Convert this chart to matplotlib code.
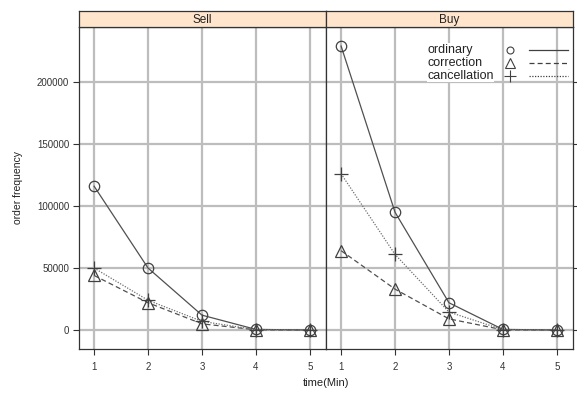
import matplotlib
matplotlib.use("Agg")
import matplotlib.pyplot as plt
from matplotlib.lines import Line2D

plt.rcParams['font.family'] = ['Liberation Sans', 'DejaVu Sans']

minutes = [1, 2, 3, 4, 5]
panels = ['Sell', 'Buy']
series_names = ['ordinary', 'correction', 'cancellation']

sell_ordinary = [116000, 50000, 12000, 500, 0]
sell_correction = [44000, 22000, 5000, 200, 0]
sell_cancellation = [50000, 24000, 7000, 300, 0]

buy_ordinary = [229000, 95000, 22000, 500, 0]
buy_correction = [64000, 33000, 9000, 200, 0]
buy_cancellation = [126000, 61000, 14500, 300, 0]

y_ticks = [0, 50000, 100000, 150000, 200000]

data = {
    'Sell': [sell_ordinary, sell_correction, sell_cancellation],
    'Buy': [buy_ordinary, buy_correction, buy_cancellation],
}
markers = ['o', '^', '+']
msizes = [7.5, 9, 10]
styles = ['-', (0, (4, 2.5)), (0, (1, 1.2))]
colors = ['#505050', '#505050', '#707070']

fig = plt.figure(figsize=(5.77, 3.94), dpi=100)
W, H = 577, 394
left, right, top, bottom = 79, 573, 27, 349
strip_h = 16
pw = (right - left) / 2

axes = []
for i, name in enumerate(panels):
    x0 = left + i * pw
    ax = fig.add_axes([x0 / W, 1 - bottom / H, pw / W, (bottom - top) / H])
    sax = fig.add_axes([x0 / W, 1 - top / H, pw / W, strip_h / H])
    sax.set_facecolor('#FFE5CC')
    sax.set_xticks([])
    sax.set_yticks([])
    sax.text(0.5, 0.42, name, ha='center', va='center', fontsize=8.5, color='#222222')
    for s in sax.spines.values():
        s.set_color('#333333')
        s.set_linewidth(0.9)

    for k, vals in enumerate(data[name]):
        ax.plot(minutes, vals, linestyle=styles[k], color=colors[k], lw=0.9,
                marker=markers[k], markersize=msizes[k], markerfacecolor='none',
                markeredgecolor='#404040', markeredgewidth=0.9, zorder=3)

    ax.set_xlim(0.72, 5.3)
    ax.set_ylim(-15300, 244400)
    ax.set_xticks(minutes)
    ax.set_yticks(y_ticks)
    ax.grid(True, color='#bdbdbd', lw=1.6, zorder=0)
    ax.set_axisbelow(True)
    ax.tick_params(labelsize=7, length=4, width=0.8, colors='#333333', pad=5)
    if i == 0:
        ax.set_yticklabels([str(v) for v in y_ticks])
        ax.tick_params(axis='y', pad=3)
    else:
        ax.tick_params(axis='y', left=False, labelleft=False, right=True)
    for s in ax.spines.values():
        s.set_color('#333333')
        s.set_linewidth(0.9)
    axes.append(ax)

# legend in the Buy panel
ax = axes[1]
for k, name in enumerate(series_names):
    yy = 0.93 - k * 0.041
    ax.text(0.41, yy, name, transform=ax.transAxes, fontsize=9, va='center',
            ha='left', color='#222222',
            bbox=dict(facecolor='white', edgecolor='none', pad=0.3))
    ax.add_line(Line2D([0.745], [yy], transform=ax.transAxes, marker=markers[k],
                       markersize=[5, 7, 8][k], markerfacecolor='none',
                       markeredgecolor='#404040', markeredgewidth=0.8, linestyle='none'))
    ax.add_line(Line2D([0.82, 0.98], [yy, yy], transform=ax.transAxes,
                       linestyle=styles[k], color='#404040', lw=0.9))

fig.text(18 / W, 1 - 188 / H, 'order frequency', rotation=90, ha='center',
         va='center', fontsize=7.5, color='#222222')
fig.text(326 / W, 1 - 383 / H, 'time(Min)', ha='center', va='center',
         fontsize=8, color='#222222')

fig.savefig('out.png', dpi=100)
